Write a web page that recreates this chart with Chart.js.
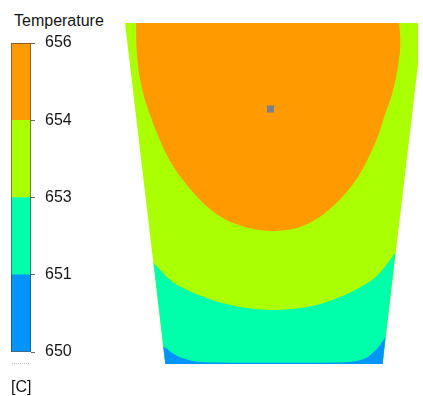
<!DOCTYPE html>
<html>
<head>
<meta charset="utf-8">
<script src="https://cdn.jsdelivr.net/npm/chart.js@4.4.1/dist/chart.umd.min.js"></script>
<style>
  html, body { margin: 0; padding: 0; background: #fff; }
  body { width: 423px; height: 396px; position: relative; overflow: hidden;
         font-family: 'Liberation Sans', Arial, sans-serif; color: #151515; }
  .txt { position: absolute; font-size: 16px; line-height: 18px; white-space: nowrap; }
  #legendBox { position: absolute; left: 0; top: 23px; width: 81px; height: 349px; }
  #fieldBox { position: absolute; left: 110px; top: 0; width: 313px; height: 396px; }
  #dots { position: absolute; left: 12px; top: 363px; width: 17px; border-top: 1px dotted #c8c8c8; }
</style>
</head>
<body>
<div class="txt" style="left:14px; top:12px;">Temperature</div>
<div id="legendBox"><canvas id="legend"></canvas></div>
<div id="dots"></div>
<div class="txt" style="left:11px; top:378px;">[C]</div>
<div id="fieldBox"><canvas id="field"></canvas></div>

<script>
// ─── data (x, y in mm; y measured up from the bottom face) ───
const levels = [650, 651, 653, 654, 656];

// trapezoid cross-section: top-left, top-right, bottom-right, bottom-left
const section = [[-151, 341], [152, 341], [111, 0], [-110, 0]];

// 654 isoline, top-left -> bottom -> top-right
const iso654 = [
  [-140, 341], [-139, 311], [-136, 286], [-131, 265], [-124, 245], [-116, 225],
  [-107, 206], [-96, 189], [-83, 173], [-67, 157], [-48, 144], [-25, 136],
  [-2, 133], [24, 136], [47, 147], [67, 164], [84, 184], [97, 207],
  [106, 227], [114, 251], [121, 271], [126, 294], [129, 317], [128, 341],
];

// 653 isoline, left wall -> right wall
const iso653 = [
  [-122, 101], [-101, 81], [-68, 66], [-34, 57], [4, 54],
  [44, 59], [77, 71], [104, 87], [124, 111],
];

// 651 isoline, left wall -> right wall
const iso651 = [
  [-112, 17], [-109, 16], [-103, 11], [-93, 6], [-79, 2.5], [-59, 1.4],
  [-20, 1.2], [30, 1.2], [64, 1.4], [81, 2.5], [94, 6], [104, 14],
  [109, 20], [114, 27],
];

// probe point
const probe = [[-3, 255]];

const bandColors = ['#0094ff', '#00ffaa', '#aaff00', '#ff9a00'];
const FONT = { family: "'Liberation Sans', Arial, sans-serif", size: 16 };

const pt = ([x, y]) => ({ x, y });
// a repeated point keeps the spline corner sharp
const corner = (p) => [p, p];

// band under an isoline, closed along the walls and the bottom face
function bandBelow(iso) {
  const end = iso[iso.length - 1];
  const bl = section[3];
  const br = section[2];
  return [...iso, end, ...corner(br), ...corner(bl)].map(pt);
}

function region(points, color, order) {
  return {
    data: points,
    showLine: true,
    fill: 'shape',
    backgroundColor: color,
    borderWidth: 0,
    pointRadius: 0,
    tension: 0.3,
    order,
  };
}

// ─── colour legend ───
const outline = {
  id: 'outline',
  afterDatasetsDraw(chart) {
    const { ctx, chartArea: a } = chart;
    ctx.save();
    ctx.strokeStyle = 'rgba(60,60,60,0.6)';
    ctx.lineWidth = 1;
    ctx.strokeRect(a.left + 0.5, a.top + 0.5, a.width - 1, a.height - 1);
    ctx.restore();
  },
};

new Chart(document.getElementById('legend'), {
  type: 'bar',
  data: {
    labels: ['T'],
    datasets: bandColors.map((c, i) => ({
      label: `${levels[i]}-${levels[i + 1]}`,
      data: [1],
      backgroundColor: c,
      borderWidth: 0,
      barPercentage: 1,
      categoryPercentage: 1,
    })),
  },
  options: {
    responsive: true,
    maintainAspectRatio: false,
    animation: false,
    layout: { padding: { left: 11, right: 0, top: 20, bottom: 20 } },
    plugins: { legend: { display: false }, tooltip: { enabled: false } },
    scales: {
      x: { stacked: true, display: false },
      y: {
        stacked: true,
        position: 'right',
        min: 0,
        max: levels.length - 1,
        afterFit: (scale) => { scale.width = 50; },
        border: { display: false },
        grid: { drawOnChartArea: false, drawTicks: true, tickLength: 4, color: '#666' },
        ticks: {
          stepSize: 1,
          padding: 10,
          color: '#151515',
          font: FONT,
          callback: (v) => levels[v],
        },
      },
    },
  },
  plugins: [outline],
});

// ─── temperature field ───
new Chart(document.getElementById('field'), {
  type: 'scatter',
  data: {
    datasets: [
      { ...region(section.map(pt), bandColors[2], 5), tension: 0 },
      region(bandBelow(iso653), bandColors[1], 4),
      region(bandBelow(iso651), bandColors[0], 3),
      region(iso654.map(pt), bandColors[3], 2),
      {
        data: probe.map(pt),
        pointStyle: 'rect',
        pointRadius: 5,
        backgroundColor: '#7d8288',
        borderWidth: 0,
        order: 1,
      },
    ],
  },
  options: {
    responsive: true,
    maintainAspectRatio: false,
    animation: false,
    layout: { padding: { left: 15, right: 0, top: 23, bottom: 32 } },
    plugins: { legend: { display: false }, tooltip: { enabled: false } },
    scales: {
      x: { type: 'linear', min: -151, max: 147, display: false },
      y: { type: 'linear', min: 0, max: 341, display: false },
    },
  },
});
</script>
</body>
</html>
